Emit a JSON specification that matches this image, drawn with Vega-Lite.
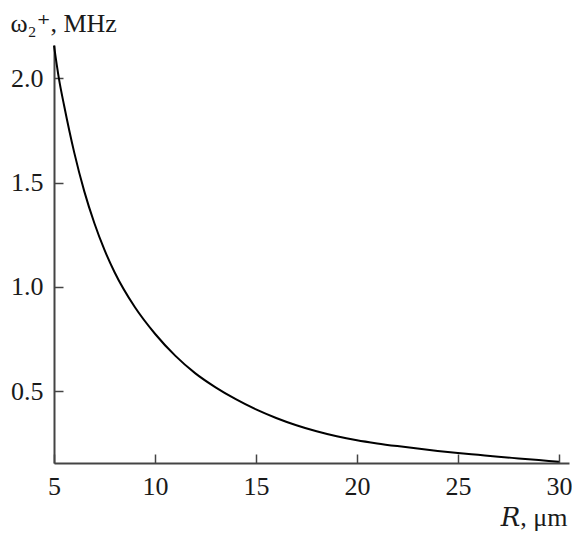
{
  "$schema": "https://vega.github.io/schema/vega-lite/v6.json",
  "width": 515,
  "height": 418,
  "autosize": {"type": "none"},
  "padding": {"left": 54, "top": 45, "right": 3, "bottom": 70},
  "background": "white",
  "view": {"stroke": null},
  "config": {
    "font": "Liberation Serif",
    "axis": {
      "domainColor": "#444",
      "domainWidth": 2,
      "tickColor": "#444",
      "tickWidth": 1.5,
      "tickSize": -9,
      "grid": false,
      "labelFont": "Liberation Serif",
      "labelFontSize": 26,
      "labelColor": "#1a1a1a",
      "titleFont": "'Liberation Serif', 'DejaVu Serif', serif",
      "titleFontSize": 26,
      "titleFontWeight": "normal",
      "titleColor": "#1a1a1a"
    }
  },
  "data": {
    "values": [
      {"R": 5.0, "w": 2.157},
      {"R": 5.25, "w": 1.995},
      {"R": 5.5, "w": 1.87},
      {"R": 6.0, "w": 1.645},
      {"R": 6.5, "w": 1.458},
      {"R": 7.0, "w": 1.305},
      {"R": 7.5, "w": 1.177},
      {"R": 8.0, "w": 1.07},
      {"R": 9.0, "w": 0.903},
      {"R": 10.0, "w": 0.775},
      {"R": 11.0, "w": 0.67},
      {"R": 12.0, "w": 0.585},
      {"R": 13.0, "w": 0.518},
      {"R": 14.0, "w": 0.461},
      {"R": 15.0, "w": 0.412},
      {"R": 16.0, "w": 0.371},
      {"R": 17.0, "w": 0.336},
      {"R": 18.0, "w": 0.307},
      {"R": 19.0, "w": 0.283},
      {"R": 20.0, "w": 0.264},
      {"R": 21.0, "w": 0.249},
      {"R": 22.0, "w": 0.236},
      {"R": 23.0, "w": 0.224},
      {"R": 24.0, "w": 0.213},
      {"R": 25.0, "w": 0.203},
      {"R": 26.0, "w": 0.194},
      {"R": 27.0, "w": 0.185},
      {"R": 28.0, "w": 0.177},
      {"R": 29.0, "w": 0.169},
      {"R": 30.0, "w": 0.161}
    ]
  },
  "mark": {"type": "line", "color": "black", "strokeWidth": 2, "interpolate": "monotone", "clip": false},
  "encoding": {
    "x": {
      "field": "R",
      "type": "quantitative",
      "scale": {"domain": [5, 30.5], "nice": false, "zero": false},
      "axis": {
        "values": [5, 10, 15, 20, 25, 30],
        "format": "d",
        "labelPadding": 19,
        "labelFlush": false,
        "title": "𝑅, μm",
        "titleAlign": "right",
        "titleAnchor": null,
        "titleX": 513,
        "titleY": 62,
        "titleBaseline": "alphabetic"
      }
    },
    "y": {
      "field": "w",
      "type": "quantitative",
      "scale": {"domain": [0.155, 2.16], "nice": false, "zero": false},
      "axis": {
        "values": [0.5, 1.0, 1.5, 2.0],
        "format": ".1f",
        "labelPadding": 20,
        "labelFlush": false,
        "title": "ω₂⁺, MHz",
        "titleAngle": 0,
        "titleAlign": "left",
        "titleAnchor": null,
        "titleX": -44,
        "titleY": -14,
        "titleBaseline": "alphabetic"
      }
    }
  }
}
